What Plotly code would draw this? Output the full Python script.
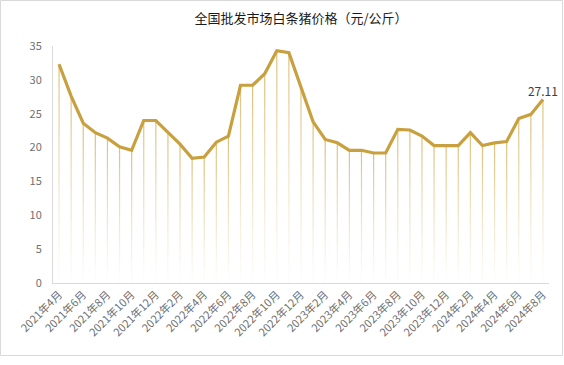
import plotly.graph_objects as go

months = []
for y, m_start, m_end in [(2021, 4, 12), (2022, 1, 12), (2023, 1, 12), (2024, 1, 8)]:
    for m in range(m_start, m_end + 1):
        months.append(f"{y}年{m}月")

prices = [32.3, 27.6, 23.6, 22.2, 21.4, 20.1, 19.6, 24.0, 24.0, 22.2,
          20.5, 18.4, 18.6, 20.8, 21.7, 29.2, 29.2, 30.9, 34.3, 34.0,
          29.0, 23.8, 21.2, 20.7, 19.6, 19.6, 19.2, 19.2, 22.7, 22.6,
          21.7, 20.3, 20.3, 20.3, 22.2, 20.3, 20.7, 20.9, 24.3, 24.9,
          27.11]

tick_labels = months[::2]
title_text = "全国批发市场白条猪价格（元/公斤）"

FONT = "Noto Sans CJK SC, Microsoft YaHei, sans-serif"
fig = go.Figure()

# gradient drop lines, built from the data in vertical bands
N = 18
for k in range(N):
    xs, ys = [], []
    for mth, v in zip(months, prices):
        xs += [mth, mth, None]
        ys += [v * k / N, v * (k + 1) / N, None]
    a = 0.03 + 0.8 * ((k + 0.5) / N) ** 1.2
    fig.add_trace(go.Scatter(x=xs, y=ys, mode="lines",
                             line=dict(color=f"rgba(214,178,96,{a:.3f})", width=1.2),
                             hoverinfo="skip", showlegend=False))

labels = [""] * (len(prices) - 1) + [f"{prices[-1]:.2f}"]
fig.add_trace(go.Scatter(x=months, y=prices, mode="lines+text",
                         line=dict(color="rgb(201,160,62)", width=3.2),
                         text=labels, textposition="top center", cliponaxis=False,
                         textfont=dict(size=12, color="#404040", family=FONT),
                         showlegend=False))

fig.update_layout(
    width=564, height=365,
    margin=dict(l=53, r=15, t=46, b=82, autoexpand=False),
    paper_bgcolor="white", plot_bgcolor="white",
    title=dict(text=title_text, x=0.5, xref="paper", xanchor="center",
               y=0.95, yanchor="middle", yref="container",
               font=dict(size=13, color="#1a1a1a", family=FONT)),
    font=dict(family=FONT),
    xaxis=dict(type="category", categoryorder="array", categoryarray=months,
               tickmode="array", tickvals=tick_labels, ticktext=tick_labels,
               tickangle=-45, tickfont=dict(size=11, color="#707070"),
               showgrid=False, showline=True, linecolor="#d9d9d9", linewidth=1,
               ticks="", automargin=False, range=[-0.5, len(months) - 0.5]),
    yaxis=dict(range=[0, 35], dtick=5, showgrid=False, zeroline=False,
               showline=True, linecolor="#d9d9d9", linewidth=1, ticks="",
               automargin=False,
               tickfont=dict(size=11, color="#707070"), ticklabelstandoff=8),
)

# outer chart border
fig.add_shape(type="rect", xref="paper", yref="paper",
              x0=-52.5 / 496, x1=1 + 13.5 / 496, y0=-72.5 / 237, y1=1 + 45.5 / 237,
              line=dict(color="#d9d9d9", width=1), fillcolor="rgba(0,0,0,0)", layer="above")

fig.write_html("out.html", config={"displayModeBar": False},
               post_script="document.body.style.margin='0';document.body.style.overflow='hidden';")
